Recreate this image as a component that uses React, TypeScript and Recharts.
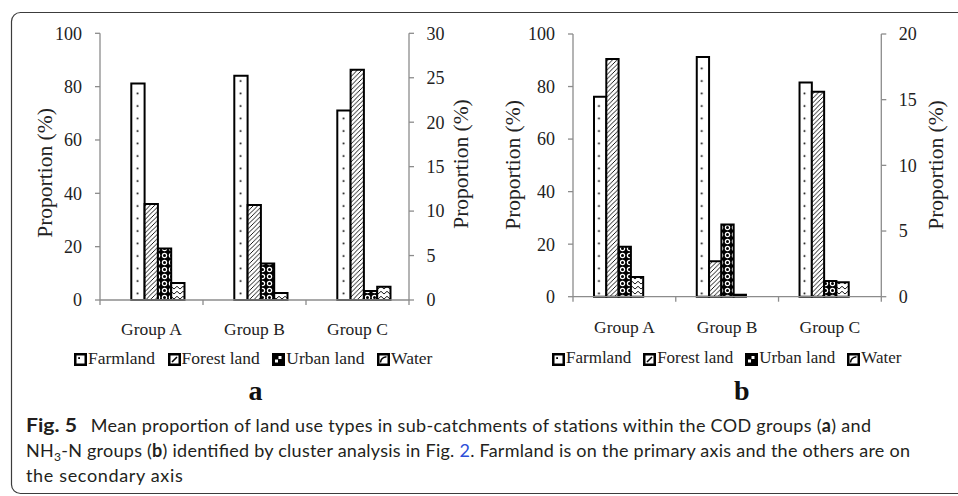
import React from 'react';
import { BarChart, Bar, XAxis, YAxis, Legend, Label } from 'recharts';

const AXIS = '#8c8c8c';
const INK = '#222222';
const SERIF = '"Liberation Serif", "Times New Roman", Times, serif';
const SANS = 'Lato, "Open Sans", "Noto Sans", sans-serif';

// ---------- data ----------
const categories = ['Group A', 'Group B', 'Group C'];
const seriesNames = ['Farmland', 'Forest land', 'Urban land', 'Water'];

// Panel a: COD groups (Farmland on primary axis 0-100, others on secondary 0-30)
const codFarmland = [81.2, 84.1, 71.1];
const codForest = [10.8, 10.7, 25.9];
const codUrban = [5.8, 4.1, 1.0];
const codWater = [1.9, 0.8, 1.5];

// Panel b: NH3-N groups (Farmland on primary axis 0-100, others on secondary 0-20)
const nhFarmland = [76.1, 91.2, 81.5];
const nhForest = [18.1, 2.7, 15.6];
const nhUrban = [3.8, 5.5, 1.2];
const nhWater = [1.5, 0.15, 1.1];

const primaryTicks = [0, 20, 40, 60, 80, 100];
const secondaryTicksA = [0, 5, 10, 15, 20, 25, 30];
const secondaryTicksB = [0, 5, 10, 15, 20];

type Row = { group: string; farmland: number; forest: number; urban: number; water: number };

const buildRows = (f: number[], fo: number[], u: number[], w: number[]): Row[] =>
  categories.map((group, i) => ({ group, farmland: f[i], forest: fo[i], urban: u[i], water: w[i] }));

const rowsA = buildRows(codFarmland, codForest, codUrban, codWater);
const rowsB = buildRows(nhFarmland, nhForest, nhUrban, nhWater);

// ---------- patterns ----------
const PatternDefs = ({ prefix, dotPeriod, dotX }: { prefix: string; dotPeriod: number; dotX: number }) => (
  <svg width={0} height={0} style={{ position: 'absolute' }}>
    <defs>
      <pattern id={`${prefix}Dots`} patternUnits="userSpaceOnUse" width={dotPeriod} height={12.5}>
        <rect width={dotPeriod} height={12.5} fill="#fff" />
        <circle cx={dotX} cy={6} r={0.95} fill="#000" />
      </pattern>
      <pattern id={`${prefix}Diag`} patternUnits="userSpaceOnUse" width={4.5} height={4.5}>
        <rect width={4.5} height={4.5} fill="#fff" />
        <path d="M0,4.5 L4.5,0 M-1.2,1.2 L1.2,-1.2 M3.3,5.7 L5.7,3.3" stroke="#000" strokeWidth={0.9} />
      </pattern>
      <pattern id={`${prefix}Urban`} patternUnits="userSpaceOnUse" width={7} height={7}>
        <rect width={7} height={7} fill="#000" />
        <circle cx={3.5} cy={3.5} r={2.7} fill="#fff" />
        <circle cx={3.5} cy={3.5} r={1.5} fill="#000" />
      </pattern>
      <pattern id={`${prefix}Water`} patternUnits="userSpaceOnUse" width={6} height={5}>
        <rect width={6} height={5} fill="#fff" />
        <polyline points="0,4 3,1.3 6,4" fill="none" stroke="#000" strokeWidth={0.9} />
      </pattern>
    </defs>
  </svg>
);

const LegendIcon = ({ kind }: { kind: number }) => (
  <svg width={13} height={13} style={{ display: 'block', marginTop: 4.5 }}>
    <rect x={1.25} y={1.25} width={10.5} height={10.5} fill={kind === 2 ? '#000' : '#fff'} stroke="#000" strokeWidth={2.5} />
    {kind === 0 && <rect x={4.2} y={4.2} width={1.8} height={1.8} fill="#000" />}
    {kind === 1 && <path d="M4,9 L9,4" stroke="#000" strokeWidth={1.6} />}
    {kind === 2 && (
      <g fill="#fff">
        <rect x={6.5} y={3} width={3} height={3} />
        <rect x={3} y={6.5} width={3} height={3} />
      </g>
    )}
    {kind === 3 && <path d="M3.5,9.5 Q4,4.5 9.5,3.8" fill="none" stroke="#000" strokeWidth={1.5} />}
  </svg>
);

const LegendRow = ({ fontSize, gap }: { fontSize: number; gap: number }) => (
  <div
    style={{
      display: 'flex',
      alignItems: 'flex-start',
      height: 20,
      lineHeight: '20px',
      fontFamily: SERIF,
      fontSize,
      color: INK,
      whiteSpace: 'nowrap',
    }}
  >
    {seriesNames.map((n, i) => (
      <div key={n} style={{ display: 'flex', alignItems: 'flex-start', marginRight: i < seriesNames.length - 1 ? gap : 0 }}>
        <LegendIcon kind={i} />
        <span style={{ marginLeft: 1 }}>{n}</span>
      </div>
    ))}
  </div>
);

type PanelProps = {
  prefix: string;
  rows: Row[];
  secondaryMax: number;
  secondaryTicks: number[];
  width: number;
  height: number;
  margin: { top: number; right: number; bottom: number; left: number };
  leftAxisWidth: number;
  rightAxisWidth: number;
  barSize: number;
  spacerFirst: boolean;
  leftLabel: [number, number];
  rightLabel: [number, number];
  catBaseline: number;
  legendLeft: number;
  legendTop: number;
  legendFont: number;
  legendGap: number;
};

const Panel = (p: PanelProps) => {
  const plotWidth = p.width - p.margin.left - p.margin.right - p.leftAxisWidth - p.rightAxisWidth;
  const band = plotWidth / categories.length;
  const fills = ['Dots', 'Diag', 'Urban', 'Water'].map((s) => `url(#${p.prefix}${s})`);
  const tick = (props: any) => {
    const { x, y, payload, index } = props;
    const h = band / 2;
    return (
      <g>
        <line x1={x - h} x2={x - h} y1={y} y2={y + 5} stroke={AXIS} strokeWidth={1.3} />
        {index === categories.length - 1 ? (
          <line x1={x + h} x2={x + h} y1={y} y2={y + 5} stroke={AXIS} strokeWidth={1.3} />
        ) : null}
        <text x={x} y={y + p.catBaseline} textAnchor="middle" fill={INK} fontSize={17.5} fontFamily={SERIF}>
          {payload.value}
        </text>
      </g>
    );
  };
  const yLabel = (pos: [number, number]) => () => (
    <text
      x={pos[0]}
      y={pos[1]}
      transform={`rotate(-90 ${pos[0]} ${pos[1]})`}
      textAnchor="middle"
      fill={INK}
      fontSize={21.5}
      fontFamily={SERIF}
    >
      Proportion (%)
    </text>
  );
  const spacer = (
    <Bar key="spacer" yAxisId="left" dataKey="spacer" barSize={p.barSize} fill="none" stroke="none" legendType="none" isAnimationActive={false} />
  );
  const keys: (keyof Row)[] = ['farmland', 'forest', 'urban', 'water'];
  const series = keys.map((k, i) => (
    <Bar
      key={k}
      yAxisId={i === 0 ? 'left' : 'right'}
      dataKey={k}
      name={seriesNames[i]}
      barSize={p.barSize}
      fill={fills[i]}
      stroke="#000"
      strokeWidth={2}
      isAnimationActive={false}
    />
  ));
  return (
    <BarChart width={p.width} height={p.height} data={p.rows} margin={p.margin} barGap={0}>
      <XAxis
        dataKey="group"
        interval={0}
        tickSize={0}
        tickMargin={0}
        height={30}
        axisLine={{ stroke: AXIS, strokeWidth: 1.3 }}
        tickLine={false}
        tick={tick}
      />
      <YAxis
        yAxisId="left"
        domain={[0, 100]}
        ticks={primaryTicks}
        interval={0}
        width={p.leftAxisWidth}
        tickSize={5}
        tickMargin={13}
        axisLine={{ stroke: AXIS, strokeWidth: 1.3 }}
        tickLine={{ stroke: AXIS, strokeWidth: 1.3 }}
        tick={{ fill: INK, fontSize: 18, fontFamily: SERIF }}
      >
        <Label content={yLabel(p.leftLabel)} />
      </YAxis>
      <YAxis
        yAxisId="right"
        orientation="right"
        domain={[0, p.secondaryMax]}
        ticks={p.secondaryTicks}
        interval={0}
        width={p.rightAxisWidth}
        tickSize={5}
        tickMargin={12.5}
        axisLine={{ stroke: AXIS, strokeWidth: 1.3 }}
        tickLine={{ stroke: AXIS, strokeWidth: 1.3 }}
        tick={{ fill: INK, fontSize: 18, fontFamily: SERIF }}
      >
        <Label content={yLabel(p.rightLabel)} />
      </YAxis>
      {p.spacerFirst ? [spacer, ...series] : [...series, spacer]}
      <Legend
        layout="horizontal"
        verticalAlign="middle"
        align="center"
        wrapperStyle={{ left: p.legendLeft, top: p.legendTop, width: 440, height: 20 }}
        content={() => <LegendRow fontSize={p.legendFont} gap={p.legendGap} />}
      />
    </BarChart>
  );
};

const CAP = { fontFamily: SANS, fontSize: 18, fill: '#231f20' };

export default function App() {
  return (
    <div style={{ position: 'absolute', left: 0, top: 0, width: 958, height: 496, overflow: 'hidden', background: '#fff' }}>
      <PatternDefs prefix="pa" dotPeriod={12.875} dotX={8.75} />
      <PatternDefs prefix="pb" dotPeriod={12.85} dotX={4.3} />
      <div style={{ position: 'absolute', left: 0, top: 0 }}>
        <Panel
          prefix="pa"
          rows={rowsA}
          secondaryMax={30}
          secondaryTicks={secondaryTicksA}
          width={479}
          height={400}
          margin={{ top: 33.3, right: 20, bottom: 70, left: 40 }}
          leftAxisWidth={60}
          rightAxisWidth={50}
          barSize={13.3}
          spacerFirst={true}
          leftLabel={[51.5, 173]}
          rightLabel={[468, 164]}
          catBaseline={35}
          legendLeft={74}
          legendTop={348}
          legendFont={17.5}
          legendGap={12.5}
        />
      </div>
      <div style={{ position: 'absolute', left: 479, top: 0 }}>
        <Panel
          prefix="pb"
          rows={rowsB}
          secondaryMax={20}
          secondaryTicks={secondaryTicksB}
          width={479}
          height={400}
          margin={{ top: 34, right: 26.7, bottom: 73.3, left: 34 }}
          leftAxisWidth={60}
          rightAxisWidth={50}
          barSize={12.3}
          spacerFirst={false}
          leftLabel={[40.5, 165]}
          rightLabel={[463.8, 165]}
          catBaseline={36.5}
          legendLeft={73}
          legendTop={348}
          legendFont={17}
          legendGap={12}
        />
      </div>
      <svg width={958} height={496} style={{ position: 'absolute', left: 0, top: 0, pointerEvents: 'none' }}>
        <rect x={11.5} y={12.5} width={990} height={481} rx={9} ry={9} fill="none" stroke="#3c3c3c" strokeWidth={1.2} />
        <text x={255.5} y={399.5} textAnchor="middle" fontFamily={SERIF} fontWeight={700} fontSize={28} fill="#111">
          a
        </text>
        <text x={741.7} y={399.5} textAnchor="middle" fontFamily={SERIF} fontWeight={700} fontSize={28} fill="#111">
          b
        </text>
        <text x={26} y={431.7} {...CAP} fontWeight={700} textLength={51} lengthAdjust="spacingAndGlyphs">
          Fig. 5
        </text>
        <text x={90.7} y={431.7} {...CAP} textLength={780.3} lengthAdjust="spacing" style={{ whiteSpace: 'pre' }}>
          {'Mean proportion of land use types in sub-catchments of stations within the COD groups ('}
          <tspan fontWeight={700}>a</tspan>
          {') and'}
        </text>
        <text x={26} y={456.7} {...CAP} textLength={884} lengthAdjust="spacing" style={{ whiteSpace: 'pre' }}>
          {'NH'}
          <tspan fontSize={12} dy={4}>3</tspan>
          <tspan dy={-4}>{'-N groups ('}</tspan>
          <tspan fontWeight={700}>b</tspan>
          {') identified by cluster analysis in Fig. '}
          <tspan fill="#2e4fd8">2</tspan>
          {'. Farmland is on the primary axis and the others are on'}
        </text>
        <text x={26} y={482.3} {...CAP} textLength={156.7} lengthAdjust="spacing" style={{ whiteSpace: 'pre' }}>
          the secondary axis
        </text>
      </svg>
    </div>
  );
}
